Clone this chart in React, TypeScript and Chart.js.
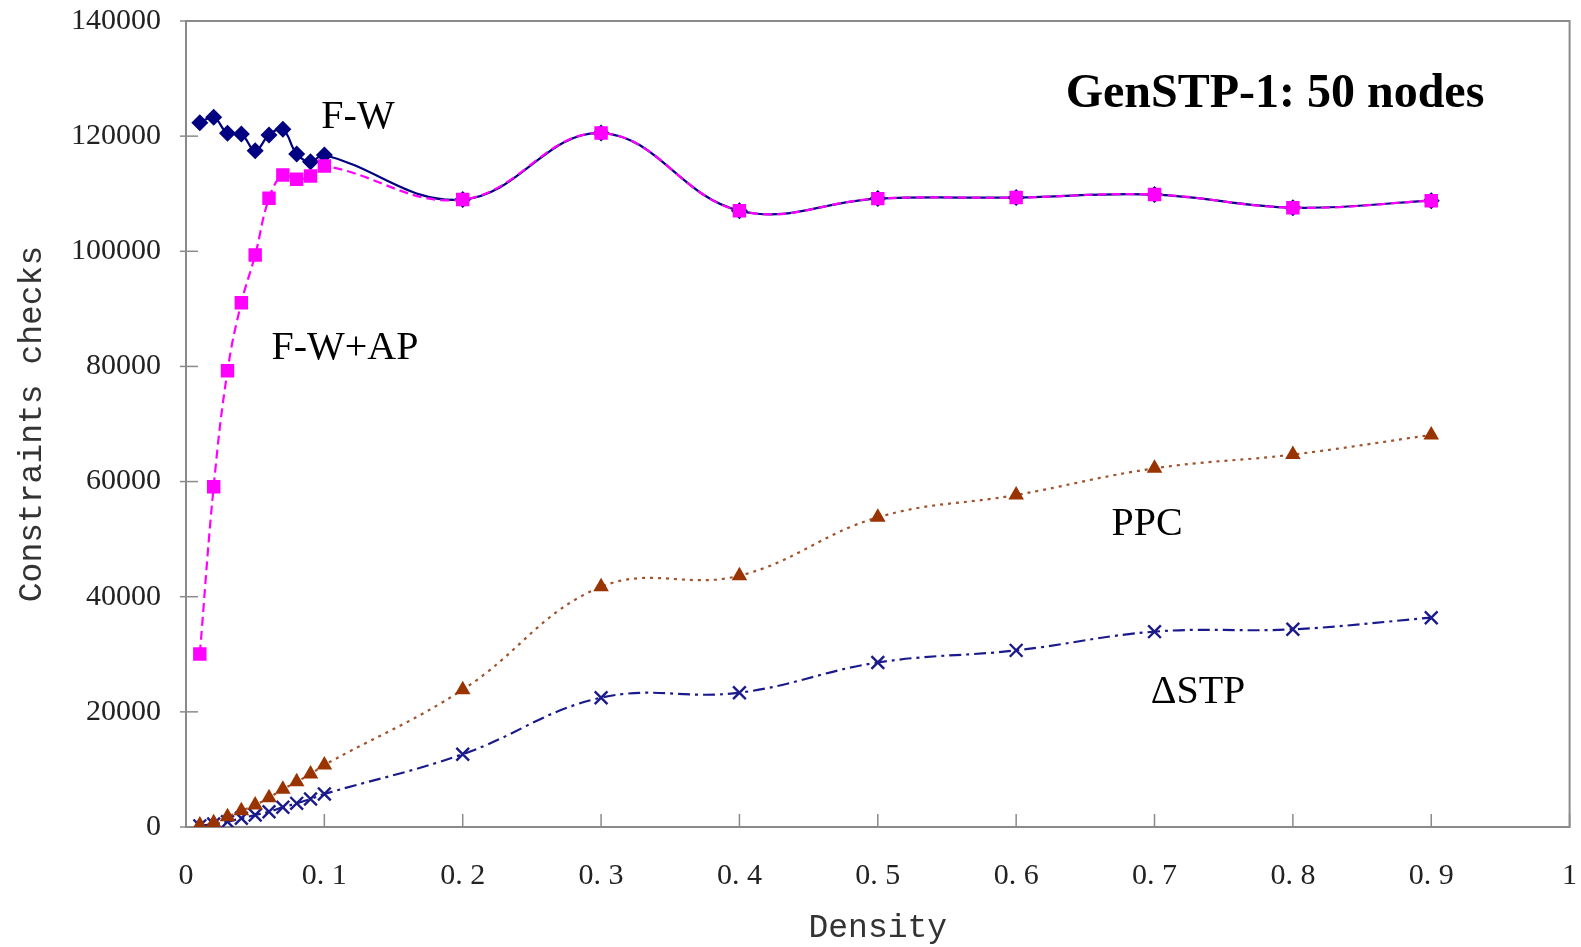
import React, { useEffect, useRef } from "react";
import { Chart, registerables } from "chart.js";

Chart.register(...registerables);

const densities = [0.01, 0.02, 0.03, 0.04, 0.05, 0.06, 0.07, 0.08, 0.09, 0.1, 0.2, 0.3, 0.4, 0.5, 0.6, 0.7, 0.8, 0.9];
const fwValues = [122340, 123270, 120490, 120370, 117470, 120200, 121190, 116900, 115560, 116730, 108980, 120530, 107050, 109150, 109330, 109850, 107570, 108790];
const fwApValues = [30050, 59110, 79260, 91070, 99360, 109200, 113250, 112500, 113080, 114820, 108980, 120530, 107050, 109150, 109330, 109850, 107570, 108790];
const ppcValues = [350, 750, 1790, 2830, 3820, 5090, 6550, 7870, 9200, 10770, 23850, 41720, 43650, 53790, 57670, 62300, 64700, 68100];
const dstpValues = [200, 520, 920, 1510, 2080, 2660, 3420, 4110, 4860, 5730, 12650, 22460, 23330, 28570, 30680, 33930, 34340, 36360];

const xTickLabels = ["0", "0. 1", "0. 2", "0. 3", "0. 4", "0. 5", "0. 6", "0. 7", "0. 8", "0. 9", "1"];
const yTickLabels = ["0", "20000", "40000", "60000", "80000", "100000", "120000", "140000"];

const chartTitle = "GenSTP-1: 50 nodes";
const xAxisTitle = "Density";
const yAxisTitle = "Constraints checks";
const seriesNames = ["F-W+AP", "F-W", "PPC", "\u0394STP"];

const toPoints = (vals: number[]) => vals.map((v, i) => ({ x: densities[i], y: v }));

const decorPlugin = {
  id: "decor",
  beforeDatasetsDraw(chart: any) {
    const { ctx, chartArea, scales } = chart;
    const { left, right, top, bottom } = chartArea;
    ctx.save();
    ctx.strokeStyle = "#8a8a8a";
    ctx.lineWidth = 2;
    ctx.strokeRect(left, top, right - left, bottom - top);
    ctx.lineWidth = 1.5;
    scales.y.ticks.forEach((t: any) => {
      const py = scales.y.getPixelForValue(t.value);
      ctx.beginPath();
      ctx.moveTo(left - 6, py);
      ctx.lineTo(left + 12, py);
      ctx.stroke();
    });
    scales.x.ticks.forEach((t: any) => {
      const px = scales.x.getPixelForValue(t.value);
      ctx.beginPath();
      ctx.moveTo(px, bottom);
      ctx.lineTo(px, bottom - 13);
      ctx.stroke();
    });
    ctx.restore();
  },
  afterDatasetsDraw(chart: any) {
    const { ctx } = chart;
    ctx.save();
    ctx.fillStyle = "#000";
    ctx.textAlign = "center";
    ctx.textBaseline = "middle";
    ctx.font = "bold 48px 'Liberation Serif', 'Times New Roman', serif";
    ctx.fillText(chartTitle, 1275, 95);
    ctx.font = "40px 'Liberation Serif', 'Times New Roman', serif";
    ctx.fillText(seriesNames[1], 358, 117);
    ctx.fillText(seriesNames[0], 345, 348);
    ctx.fillText(seriesNames[2], 1147, 524);
    ctx.fillText(seriesNames[3], 1198, 692);
    ctx.restore();
  },
};

export default function App() {
  const canvasRef = useRef<HTMLCanvasElement | null>(null);

  useEffect(() => {
    document.body.style.margin = "0";
    document.body.style.overflow = "hidden";
    const canvas = canvasRef.current;
    if (!canvas) return;
    const chart = new Chart(canvas, {
      type: "line",
      data: {
        datasets: [
          {
            label: seriesNames[0],
            data: toPoints(fwApValues),
            borderColor: "#ff00ff",
            backgroundColor: "#ff00ff",
            borderWidth: 2.2,
            borderDash: [9, 5],
            pointStyle: "rect",
            pointRadius: 9.5,
            pointBorderWidth: 0,
            tension: 0.4,
            order: 0,
          },
          {
            label: seriesNames[1],
            data: toPoints(fwValues),
            borderColor: "#000080",
            backgroundColor: "#000080",
            borderWidth: 2.2,
            pointStyle: "rectRot",
            pointRadius: 8.5,
            pointBorderWidth: 0,
            tension: 0.4,
            order: 1,
          },
          {
            label: seriesNames[2],
            data: toPoints(ppcValues),
            borderColor: "#a0522d",
            backgroundColor: "#993300",
            borderWidth: 2.2,
            borderDash: [3, 5],
            pointStyle: "triangle",
            pointRadius: 9,
            pointBorderWidth: 0,
            tension: 0.4,
            order: 2,
          },
          {
            label: seriesNames[3],
            data: toPoints(dstpValues),
            borderColor: "#1a1a8c",
            backgroundColor: "#1a1a8c",
            borderWidth: 2.2,
            borderDash: [12, 5, 3, 5],
            pointStyle: "crossRot",
            pointRadius: 9,
            pointBorderWidth: 2.4,
            tension: 0.4,
            order: 3,
          },
        ],
      },
      options: {
        responsive: false,
        animation: false,
        layout: { padding: { top: 21, right: 10, left: 0, bottom: 0 } },
        plugins: {
          legend: { display: false },
          tooltip: { enabled: false },
          title: { display: false },
        },
        scales: {
          x: {
            type: "linear",
            min: 0,
            max: 1,
            grid: { display: false, drawTicks: false },
            border: { display: false },
            ticks: {
              stepSize: 0.1,
              padding: 31,
              color: "#222",
              font: { family: "'Liberation Serif', serif", size: 30 },
              maxRotation: 0,
              autoSkip: false,
              callback: (_v: any, i: number) => xTickLabels[i],
            },
            title: {
              display: true,
              text: xAxisTitle,
              color: "#333",
              font: { family: "'Liberation Mono', monospace", size: 33, lineHeight: 1.1 },
              padding: { top: 0, bottom: 1 },
            },
            afterFit: (scale: any) => {
              scale.height = 120;
              scale.paddingLeft = 0;
              scale.paddingRight = 0;
            },
          },
          y: {
            type: "linear",
            min: 0,
            max: 140000,
            grid: { display: false, drawTicks: false },
            border: { display: false },
            ticks: {
              stepSize: 20000,
              padding: 25,
              color: "#222",
              font: { family: "'Liberation Serif', serif", size: 30 },
              callback: (_v: any, i: number) => yTickLabels[i],
            },
            title: {
              display: true,
              text: yAxisTitle,
              color: "#333",
              font: { family: "'Liberation Mono', monospace", size: 33, lineHeight: 1.1 },
              padding: { top: 14, bottom: 0 },
            },
            afterFit: (scale: any) => {
              scale.width = 186;
              scale.paddingTop = 0;
              scale.paddingBottom = 0;
            },
          },
        },
      },
      plugins: [decorPlugin],
    });
    return () => chart.destroy();
  }, []);

  return (
    <div style={{ position: "absolute", left: 0, top: 0, width: 1581, height: 947, background: "#fff" }}>
      <canvas ref={canvasRef} width={1581} height={947} />
    </div>
  );
}
